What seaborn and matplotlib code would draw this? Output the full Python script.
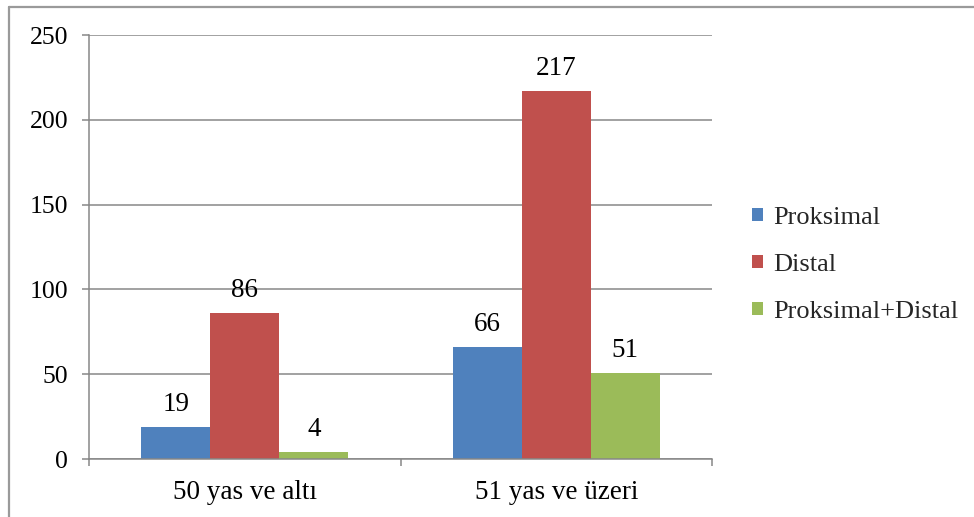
import matplotlib
matplotlib.use("Agg")
import matplotlib.pyplot as plt
from matplotlib.lines import Line2D
from matplotlib.ticker import FixedLocator
import pandas as pd
import seaborn as sns

# Data
groups = ["50 yas ve altı", "51 yas ve üzeri"]
series = ["Proksimal", "Distal", "Proksimal+Distal"]
proksimal = [19, 66]
distal = [86, 217]
proksimal_distal = [4, 51]
y_ticks = [0, 50, 100, 150, 200, 250]

colors = ["#4F81BD", "#C0504D", "#9BBB59"]
grid_gray = "#878787"

rows = []
for name, vals in zip(series, [proksimal, distal, proksimal_distal]):
    for g, v in zip(groups, vals):
        rows.append({"Yas": g, "Tip": name, "Sayi": v})
df = pd.DataFrame(rows)

sns.set_theme(style="white")
plt.rcParams["font.family"] = ["Liberation Serif", "DejaVu Serif"]

fig = plt.figure(figsize=(9.74, 5.17), dpi=100)
ax = fig.add_axes([89 / 974, 1 - 459 / 517, (712 - 89) / 974, (459 - 35) / 517])

sns.barplot(data=df, x="Yas", y="Sayi", hue="Tip", order=groups,
            hue_order=series, palette=colors, width=0.665, gap=0,
            saturation=1, linewidth=0, ax=ax, legend=True)

ax.set_xlim(-0.5, 1.5)
ax.set_ylim(0, 250)
ax.set_yticks(y_ticks)
ax.set_xlabel("")
ax.set_ylabel("")

# Horizontal gridlines behind bars
ax.set_axisbelow(True)
ax.yaxis.grid(True, color=grid_gray, linewidth=1.1)
ax.xaxis.grid(False)

for side in ["top", "right"]:
    ax.spines[side].set_visible(False)
for side in ["left", "bottom"]:
    ax.spines[side].set_visible(True)
    ax.spines[side].set_color(grid_gray)
    ax.spines[side].set_linewidth(1.1)

ax.tick_params(axis="y", which="major", direction="out", length=5,
               width=1.1, color=grid_gray, labelsize=18.5, pad=10,
               labelcolor="black", left=True)
ax.tick_params(axis="x", which="major", length=0, labelsize=19.5, pad=15,
               labelcolor="black")
ax.xaxis.set_minor_locator(FixedLocator([-0.5, 0.5, 1.5]))
ax.tick_params(axis="x", which="minor", direction="out", length=5,
               width=1.1, color=grid_gray, bottom=True)

# Value labels above bars
for container in ax.containers:
    ax.bar_label(container, labels=[f"{int(v)}" for v in container.datavalues],
                 padding=7, fontsize=19.5, color="black")

# Legend on the right
handles, labels = ax.get_legend_handles_labels()
ax.legend(handles, labels, loc="center left",
          bbox_to_anchor=(752 / 974, 1 - 265 / 517),
          bbox_transform=fig.transFigure, frameon=False, fontsize=19,
          handlelength=0.4, handleheight=0.4, handletextpad=0.4,
          labelspacing=0.95, borderpad=0, borderaxespad=0)

# Outer chart border (top and left edges)
fig.add_artist(Line2D([8.5 / 974, 1.0], [1 - 6.5 / 517, 1 - 6.5 / 517],
                      transform=fig.transFigure, color="#9a9a9a", linewidth=1.6))
fig.add_artist(Line2D([8.5 / 974, 8.5 / 974], [0.0, 1 - 6.5 / 517],
                      transform=fig.transFigure, color="#9a9a9a", linewidth=1.6))

fig.savefig("out.png", dpi=100, facecolor="white")
